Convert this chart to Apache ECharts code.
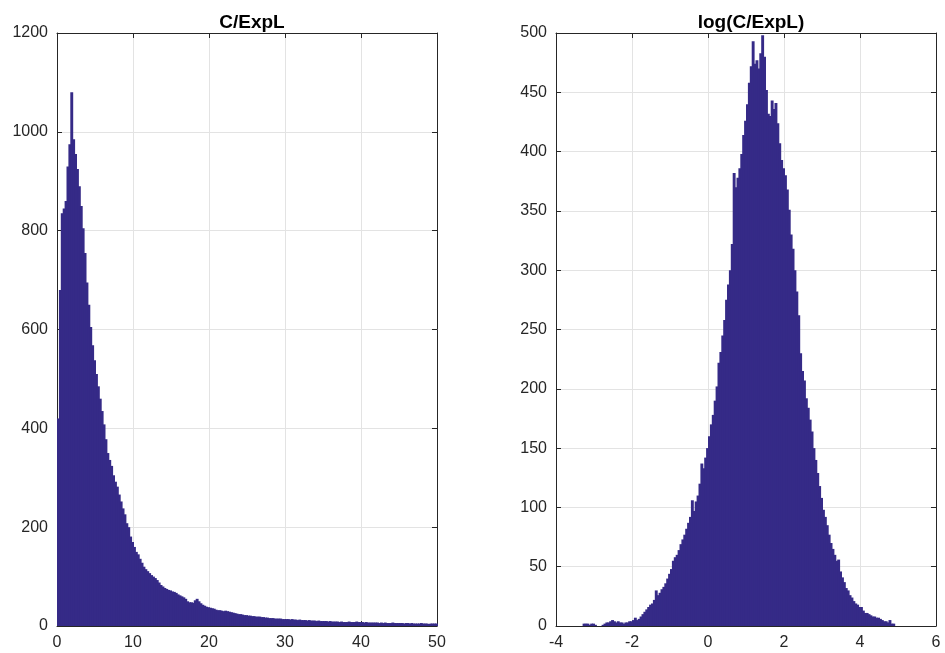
<!DOCTYPE html>
<html>
<head>
<meta charset="utf-8">
<title>C/ExpL histograms</title>
<script src="https://cdn.jsdelivr.net/npm/echarts@6.0.0/dist/echarts.min.js"></script>
<style>
  html, body { margin: 0; padding: 0; background: #fff; }
  #chart { width: 945px; height: 653px; }
</style>
</head>
<body>
<div id="chart"></div>
<script>
// left panel: C/ExpL, bins of 0.25 starting at 0
const ratioStart = 0
const ratioWidth = 0.25
const ratioCounts = [
  420, 680, 835, 845, 860, 930, 975, 1080, 985, 955,
  925, 890, 850, 805, 755, 695, 650, 605, 568, 538,
  510, 485, 460, 435, 408, 378, 350, 336, 324, 305,
  292, 282, 266, 252, 238, 226, 208, 200, 181, 170,
  160, 150, 145, 136, 128, 120, 115, 111, 107, 103,
  100, 97, 93, 88, 83, 80, 77, 75, 73, 72,
  70, 69, 67, 64, 62, 60, 58, 55, 50, 48,
  48, 47, 52, 55, 50, 46, 43, 41, 39, 38,
  37, 36, 35, 33, 32, 32, 31, 30, 31, 30,
  29, 28, 27, 26, 25, 24, 24, 23, 22, 22,
  21, 21, 20, 20, 19, 19, 19, 18, 18, 17,
  17, 16, 16, 16, 15, 15, 15, 15, 14, 14,
  14, 14, 13, 14, 13, 13, 12, 13, 12, 12,
  12, 11, 12, 11, 11, 11, 10, 11, 10, 10,
  10, 10, 9, 10, 9, 9, 9, 9, 8, 9,
  8, 8, 8, 9, 8, 8, 8, 9, 8, 8,
  8, 7, 8, 7, 7, 7, 7, 7, 7, 6,
  7, 6, 7, 6, 6, 6, 7, 6, 6, 6,
  6, 6, 5, 6, 6, 5, 6, 5, 5, 5,
  5, 6, 5, 5, 5, 4, 5, 5, 5, 5
]

// right panel: log(C/ExpL), bins of 0.05 starting at -3.3
const logStart = -3.3
const logWidth = 0.05
const logCounts = [
  2, 2, 2, 1, 2, 2, 1, 0, 0, 0,
  1, 2, 3, 3, 4, 5, 4, 3, 4, 3,
  3, 2, 3, 3, 4, 4, 5, 7, 5, 6,
  8, 10, 12, 14, 16, 18, 19, 22, 30, 26,
  28, 31, 33, 36, 40, 44, 48, 55, 58, 60,
  64, 69, 73, 77, 82, 87, 92, 106, 97, 105,
  110, 120, 137, 133, 142, 150, 160, 170, 178, 190,
  202, 222, 231, 245, 258, 275, 288, 300, 322, 382,
  370, 378, 386, 398, 414, 426, 440, 458, 472, 493,
  474, 477, 470, 483, 498, 480, 452, 432, 430, 443,
  436, 441, 424, 407, 393, 386, 380, 368, 351, 330,
  318, 300, 282, 262, 230, 215, 207, 192, 184, 174,
  164, 150, 140, 129, 118, 108, 98, 92, 85, 77,
  70, 65, 60, 55, 56, 46, 41, 37, 32, 30,
  26, 24, 21, 19, 18, 16, 16, 13, 11, 11,
  10, 9, 8, 8, 7, 7, 6, 5, 4, 4,
  3, 5, 2, 2
]

const titles = ['C/ExpL', 'log(C/ExpL)']

const barColor = '#352a87'
const axisColor = '#262626'
const gridColor = '#e3e3e3'
const font = '"Liberation Sans", Arial, Helvetica, sans-serif'

const toBins = (start, width, counts) =>
  counts.map((c, i) => [+(start + i * width).toFixed(4), c])

const histItem = (width) => (params, api) => {
  const x0 = api.value(0)
  const top = api.coord([x0, api.value(1)])
  const bottom = api.coord([x0 + width, 0])
  return {
    type: 'rect',
    shape: {
      x: top[0],
      y: top[1],
      // overlap so neighbouring bins do not show seams
      width: bottom[0] - top[0] + 1,
      height: bottom[1] - top[1],
    },
    style: { fill: barColor, stroke: null },
  }
}

const plainNumber = (v) => String(v)

const mainAxis = (gridIndex, position, min, max, interval, grid) => ({
  type: 'value',
  gridIndex,
  position,
  min,
  max,
  interval,
  axisLine: { show: true, onZero: false, lineStyle: { color: axisColor, width: 1 } },
  axisTick: { show: true, inside: true, length: 5, lineStyle: { color: axisColor } },
  axisLabel: {
    show: true,
    color: axisColor,
    fontSize: 16,
    fontFamily: font,
    margin: 9,
    formatter: plainNumber,
  },
  splitLine: { show: grid, lineStyle: { color: gridColor, width: 1 } },
})

const boxAxis = (gridIndex, position, min, max, interval) => ({
  type: 'value',
  gridIndex,
  position,
  min,
  max,
  interval,
  axisLine: { show: true, onZero: false, lineStyle: { color: axisColor, width: 1 } },
  axisTick: { show: true, inside: true, length: 5, lineStyle: { color: axisColor } },
  axisLabel: { show: false },
  splitLine: { show: false },
})

const chart = echarts.init(document.getElementById('chart'), null, { renderer: 'canvas' })

const option = {
  animation: false,
  backgroundColor: '#fff',
  title: [
    {
      text: titles[0],
      left: 247,
      top: 8,
      textAlign: 'center',
      textStyle: { fontFamily: font, fontSize: 19, fontWeight: 'bold', color: '#000' },
    },
    {
      text: titles[1],
      left: 746,
      top: 8,
      textAlign: 'center',
      textStyle: { fontFamily: font, fontSize: 19, fontWeight: 'bold', color: '#000' },
    },
  ],
  grid: [
    { left: 57, top: 33, width: 380, height: 593, outerBoundsMode: 'none' },
    { left: 556, top: 33, width: 380, height: 593, outerBoundsMode: 'none' },
  ],
  xAxis: [
    mainAxis(0, 'bottom', 0, 50, 10, true),
    boxAxis(0, 'top', 0, 50, 10),
    mainAxis(1, 'bottom', -4, 6, 2, true),
    boxAxis(1, 'top', -4, 6, 2),
  ],
  yAxis: [
    mainAxis(0, 'left', 0, 1200, 200, true),
    boxAxis(0, 'right', 0, 1200, 200),
    mainAxis(1, 'left', 0, 500, 50, true),
    boxAxis(1, 'right', 0, 500, 50),
  ],
  series: [
    {
      type: 'custom',
      xAxisIndex: 0,
      yAxisIndex: 0,
      renderItem: histItem(ratioWidth),
      encode: { x: 0, y: 1 },
      data: toBins(ratioStart, ratioWidth, ratioCounts),
    },
    {
      type: 'custom',
      xAxisIndex: 2,
      yAxisIndex: 2,
      renderItem: histItem(logWidth),
      encode: { x: 0, y: 1 },
      data: toBins(logStart, logWidth, logCounts),
    },
  ],
}

chart.setOption(option)
</script>
</body>
</html>
